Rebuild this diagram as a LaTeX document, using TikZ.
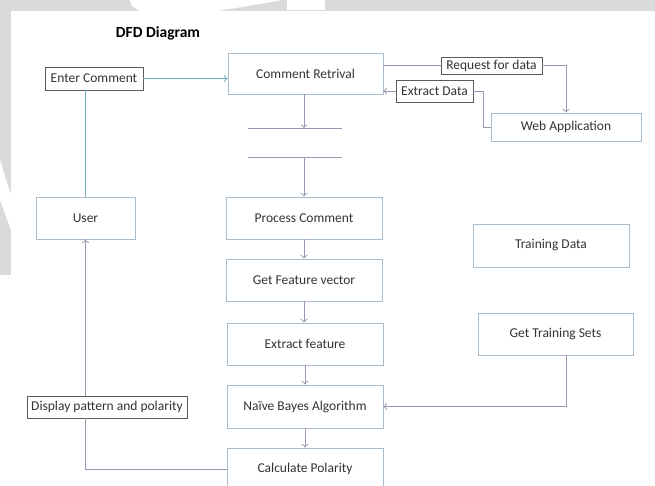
\documentclass[tikz,border=0pt]{standalone}
\usepackage{fontspec}
\setmainfont{Carlito}
\usetikzlibrary{arrows.meta}
\definecolor{bgray}{HTML}{DADADA}
\definecolor{boxblue}{HTML}{A9BCCB}
\definecolor{darkb}{HTML}{5A5A5A}
\definecolor{arrg}{HTML}{9A98B2}
\definecolor{teal}{HTML}{72AFC0}
\definecolor{txt}{HTML}{333333}
\tikzset{
  lbox/.style={draw=boxblue, line width=0.9pt, rectangle, inner sep=0pt, text=txt, font=\fontsize{13.5}{15}\selectfont},
  dbox/.style={draw=darkb, line width=0.9pt, rectangle, inner sep=0pt, text=txt, font=\fontsize{13.5}{15}\selectfont},
  arr/.style={draw=arrg, line width=0.8pt, -{To[length=3.5pt,width=7pt]}},
  ln/.style={draw=arrg, line width=0.8pt},
  tarr/.style={draw=teal, line width=0.8pt, -{To[length=3.5pt,width=7pt]}},
  tln/.style={draw=teal, line width=0.8pt}
}
\begin{document}
\begin{tikzpicture}[x=1pt,y=-1pt]
\useasboundingbox (0,0) rectangle (655,486);
% background and watermark
\fill[bgray] (0,0) rectangle (655,486);
\fill[white] (11,11) rectangle (655,486);
\fill[white] (130,0) .. controls (131,6) .. (140,11) -- (218,11) -- (283,0) -- cycle;
\fill[white] (287,0) rectangle (325,10);
\fill[white] (0,275) rectangle (11,486);
\fill[white] (0,160) -- (11,195) -- (11,230) -- (0,200) -- cycle;
% title
\node[font=\fontsize{15.5}{17}\selectfont\bfseries, text=black] (title) at (158,33) {DFD Diagram};
% nodes
\node[dbox, minimum width=98pt, minimum height=23pt] (enter) at (94,78.5) {Enter Comment};
\node[lbox, minimum width=155pt, minimum height=41pt] (cr) at (305.5,73.5) {Comment Retrival};
\node[dbox, minimum width=101pt, minimum height=17pt] (req) at (491.5,65.5) {Request for data};
\node[dbox, minimum width=77pt, minimum height=22pt] (ext) at (434.5,91) {Extract Data};
\node[lbox, minimum width=150pt, minimum height=28pt] (web) at (566,127) {Web Application};
\node[lbox, minimum width=99pt, minimum height=42pt] (user) at (85.5,218) {User};
\node[lbox, minimum width=156pt, minimum height=42pt] (pc) at (304,218) {Process Comment};
\node[lbox, minimum width=156pt, minimum height=42pt] (gf) at (304,280) {Get Feature vector};
\node[lbox, minimum width=156pt, minimum height=42pt] (ef) at (305,344) {Extract feature};
\node[lbox, minimum width=156pt, minimum height=43pt] (nb) at (305,406.5) {Naïve Bayes Algorithm};
\node[lbox, minimum width=156pt, minimum height=42pt] (cp) at (305,469) {Calculate Polarity};
\node[dbox, minimum width=160pt, minimum height=22pt] (disp) at (107,407) {Display pattern and polarity};
\node[lbox, minimum width=156pt, minimum height=43pt] (td) at (551,245.5) {Training Data};
\node[lbox, minimum width=155pt, minimum height=42pt] (gts) at (555.5,334) {Get Training Sets};
% data store lines
\coordinate (s1a) at (248,128); \coordinate (s1b) at (342,128);
\coordinate (s2a) at (248,157); \coordinate (s2b) at (342,157);
\draw[ln] (s1a) -- (s1b);
\draw[ln] (s2a) -- (s2b);
% connectors
\draw[tarr] (enter.east) -- (enter.east -| cr.west);
\draw[tln] (user.north |- enter.south) -- (user.north);
\draw[ln] (req.west -| cr.east) -- (req.west);
\draw[arr] (req.east) -| (web.north);
\draw[arr] (ext.west) -- (ext.west -| cr.east);
\coordinate (c1) at (483,91);
\draw[ln] (ext.east) -- (c1) |- (web.west);
\draw[arr] (cr.south -| pc.north) -- (pc.north |- s1a);
\draw[arr] (pc.north |- s2a) -- (pc.north);
\draw[arr] (pc.south) -- (gf.north);
\draw[arr] (gf.south) -- (gf.south |- ef.north);
\draw[arr] (ef.south) -- (nb.north);
\draw[arr] (nb.south) -- (cp.north);
\coordinate (c2) at ([xshift=10.5pt]gts.south);
\draw[arr] (c2) |- (nb.east);
\coordinate (c3) at (user.south |- disp.south);
\draw[ln] (cp.west) -| (c3);
\draw[arr] (user.south |- disp.north) -- (user.south);
\end{tikzpicture}
\end{document}
